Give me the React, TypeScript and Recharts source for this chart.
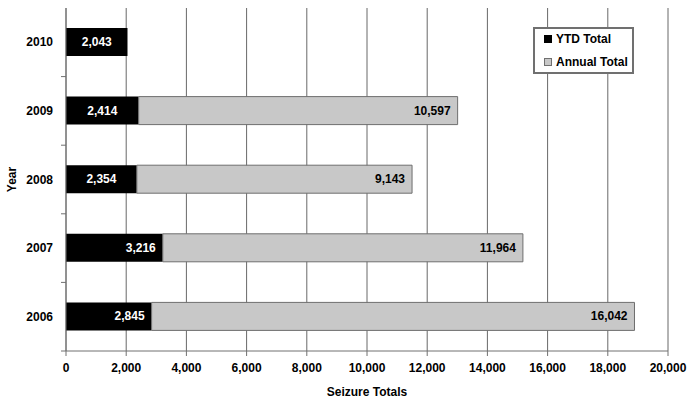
import React from 'react';
import { BarChart, Bar, XAxis, YAxis, CartesianGrid, Legend, LabelList } from 'recharts';

const categories = ['2010', '2009', '2008', '2007', '2006'];
const ytdTotals = [2043, 2414, 2354, 3216, 2845];
const annualTotals: (number | null)[] = [null, 10597, 9143, 11964, 16042];
const xTicks = [0, 2000, 4000, 6000, 8000, 10000, 12000, 14000, 16000, 18000, 20000];
const seriesNames = ['YTD Total', 'Annual Total'];

const ytdLabelPlacement = ['center', 'center', 'center', 'end', 'end'];

const data = categories.map((year, i) => ({
  year,
  ytd: ytdTotals[i],
  annual: annualTotals[i],
}));

const AXIS = '#707070';
const FONT = '"Liberation Sans", Arial, sans-serif';
const fmt = (v: number) => v.toLocaleString('en-US');

const YTick = (props: any) => {
  const { x, y, payload } = props;
  const off = payload && payload.offset ? payload.offset : 0;
  const axisX = x + 13;
  return (
    <g>
      <text x={x} y={y} textAnchor="end" dominantBaseline="central" fontSize={12} fontWeight="bold" fill="#000">
        {payload.value}
      </text>
      <line x1={axisX - 5} x2={axisX} y1={y + off} y2={y + off} stroke={AXIS} strokeWidth={1} />
    </g>
  );
};

const YtdLabel = (props: any) => {
  const { x, y, width, height, value, index } = props;
  if (value == null) return null;
  const place = ytdLabelPlacement[index] || 'center';
  const tx = place === 'end' ? x + width - 7 : x + width / 2;
  return (
    <text x={tx} y={y + height / 2} textAnchor={place === 'end' ? 'end' : 'middle'} dominantBaseline="central" fill="#fff" fontSize={12} fontWeight="bold">
      {fmt(value)}
    </text>
  );
};

const AnnualLabel = (props: any) => {
  const { x, y, width, height, value } = props;
  if (value == null) return null;
  return (
    <text x={x + width - 7} y={y + height / 2} textAnchor="end" dominantBaseline="central" fill="#000" fontSize={12} fontWeight="bold">
      {fmt(value)}
    </text>
  );
};

const renderLegend = (props: any) => {
  const { payload } = props;
  const items = [...(payload || [])].sort(
    (a: any, b: any) => seriesNames.indexOf(a.value) - seriesNames.indexOf(b.value)
  );
  return (
    <div
      style={{
        position: 'relative',
        width: 101,
        height: 47,
        boxSizing: 'border-box',
        border: `2px solid ${AXIS}`,
        background: '#fff',
        fontFamily: FONT,
        fontSize: 12,
        fontWeight: 'bold',
        color: '#000',
      }}
    >
      {items.map((entry: any, i: number) => (
        <div
          key={entry.value}
          style={{ position: 'absolute', left: 9, top: 3 + i * 23, height: 14, lineHeight: '14px', display: 'flex', alignItems: 'center', whiteSpace: 'nowrap' }}
        >
          <span
            style={{
              display: 'inline-block',
              width: 8,
              height: 8,
              boxSizing: 'border-box',
              background: entry.color,
              border: `1px solid ${i === 0 ? '#000' : AXIS}`,
              marginRight: 4,
            }}
          />
          <span>{entry.value}</span>
        </div>
      ))}
    </div>
  );
};

const YearLabel = (props: any) => {
  const { viewBox } = props;
  const cy = viewBox.y + viewBox.height / 2;
  const cx = viewBox.x + 12;
  return (
    <text x={cx} y={cy} textAnchor="middle" dominantBaseline="central" fontSize={12} fontWeight="bold" fill="#000" transform={`rotate(-90 ${cx} ${cy})`}>
      Year
    </text>
  );
};

export default function App() {
  return (
    <div style={{ position: 'absolute', left: 0, top: 0, width: 692, height: 400, background: '#fff', fontFamily: FONT, fontWeight: 'bold', fontSize: 12 }}>
      <BarChart
        width={692}
        height={400}
        data={data}
        layout="vertical"
        margin={{ top: 8, right: 24, bottom: 0, left: 0 }}
        barSize={28}
      >
        <CartesianGrid horizontal={false} vertical={true} stroke="#686868" strokeWidth={1} />
        <XAxis
          type="number"
          domain={[0, 20000]}
          ticks={xTicks}
          tickFormatter={fmt}
          interval={0}
          height={49}
          tickSize={5}
          tickMargin={7}
          stroke={AXIS}
          tick={{ fill: '#000', fontSize: 12, fontWeight: 'bold' }}
          tickLine={{ stroke: AXIS }}
          axisLine={{ stroke: AXIS }}
          label={{ value: 'Seizure Totals', position: 'insideBottom', offset: 4, fill: '#000', fontSize: 12, fontWeight: 'bold' }}
        />
        <YAxis
          type="category"
          dataKey="year"
          width={66}
          tickSize={5}
          tickMargin={8}
          tickLine={false}
          axisLine={{ stroke: AXIS }}
          tick={<YTick />}
          interval={0}
          label={<YearLabel />}
        />
        <Legend
          layout="vertical"
          align="center"
          verticalAlign="middle"
          wrapperStyle={{ position: 'absolute', left: 533, top: 27, width: 101, height: 47 }}
          content={renderLegend}
        />
        <Bar dataKey="ytd" name="YTD Total" stackId="s" fill="#000000" isAnimationActive={false}>
          <LabelList dataKey="ytd" content={<YtdLabel />} />
        </Bar>
        <Bar dataKey="annual" name="Annual Total" stackId="s" fill="#C8C8C8" stroke="#6E6E6E" strokeWidth={1} isAnimationActive={false}>
          <LabelList dataKey="annual" content={<AnnualLabel />} />
        </Bar>
      </BarChart>
    </div>
  );
}
